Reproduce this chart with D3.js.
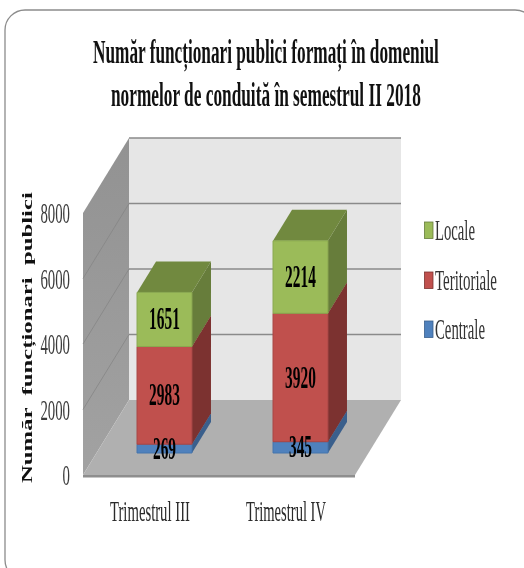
<!DOCTYPE html>
<html><head><meta charset="utf-8">
<script src="https://cdn.jsdelivr.net/npm/d3@7"></script>
<style>html,body{margin:0;padding:0;background:#fff}svg{display:block;filter:blur(.55px)}text{font-family:"Liberation Serif",serif}</style>
</head><body><svg id="c" width="524" height="568"></svg>
<script>
const titleLines = ["Număr funcționari publici formați în domeniul", "normelor de conduită în semestrul II 2018"];
const yTitle = "Număr  funcționari  publici";
const categories = ["Trimestrul III", "Trimestrul IV"];
const centrale = [269, 345];
const teritoriale = [2983, 3920];
const locale = [1651, 2214];
const yTicks = [0, 2000, 4000, 6000, 8000];
const seriesNames = ["Centrale", "Teritoriale", "Locale"];
const seriesValues = [centrale, teritoriale, locale];
const colors = [
  {front:"#4f81bd", side:"#3a5f8c", top:"#41699b", edge:"#4574ac"},
  {front:"#c0504d", side:"#7c3230", top:"#8e3b39", edge:"#a94644"},
  {front:"#9bbb59", side:"#677d3b", top:"#71893f", edge:"#8aa84f"}
];

const svg = d3.select("#c");
const x = d3.scaleBand().domain(categories).range([83,355]).paddingInner(.596).paddingOuter(.298);
const y = d3.scaleLinear().domain([0,8000]).range([475,213]);
const DX = 46, DY = 75, D0 = 22/75, D1 = 53/75;
const P = (px,v,d) => [px + d*DX, y(v) - d*DY];
const poly = (pts,fill,stroke) => svg.append("path").attr("d","M"+pts.map(p=>p.join(",")).join("L")+"Z")
  .attr("fill",fill).attr("stroke",stroke||"none").attr("stroke-width",stroke?1:0);
// place a text squeezed to a given pixel width; ax = 0 start, .5 middle, 1 end
function fit(sel, px, py, width, ax) {
  sel.attr("text-anchor","start").attr("x",0).attr("y",0).attr("dy",null);
  const len = sel.node().getComputedTextLength();
  sel.attr("transform",`translate(${px - ax*width},${py}) scale(${width/len},1)`);
}

// frame
svg.append("rect").attr("x",5).attr("y",10).attr("width",530).attr("height",570).attr("rx",20)
  .attr("fill","#fff").attr("stroke","#8c8c8c").attr("stroke-width",1.3);

// title
titleLines.forEach((t,i)=>{
  const s = svg.append("text").attr("font-size",33).attr("font-weight","bold").attr("fill","#111").text(t);
  fit(s,[93,111][i],[62.5,106][i],[346,310][i],0);
});

// walls and floor
const [xa,xb] = x.range();
const grad = svg.append("defs").append("linearGradient").attr("id","wall").attr("x1",0).attr("x2",0).attr("y1",0).attr("y2",1);
grad.append("stop").attr("offset",0).attr("stop-color","#929292");
grad.append("stop").attr("offset",1).attr("stop-color","#a2a2a2");
poly([P(xa,0,0),P(xa,8000,0),P(xa,8000,1),P(xa,0,1)],"url(#wall)");
poly([P(xa,0,1),P(xa,8000,1),P(xb,8000,1),P(xb,0,1)],"#e6e6e6");
poly([P(xa,0,0),P(xb,0,0),[xb,y(0)+2.5],[xa,y(0)+2.5]],"#8e8e8e");
poly([P(xa,0,0),P(xb,0,0),P(xb,0,1),P(xa,0,1)],"#b0b0b0");
yTicks.forEach(v=>{
  if(v>0) svg.append("line").attr("x1",P(xa,v,1)[0]).attr("y1",P(xa,v,1)[1]).attr("x2",P(xb,v,1)[0]).attr("y2",P(xb,v,1)[1]).attr("stroke","#8a8a8a").attr("stroke-width",1.6);
  if(v>0 && v<8000) svg.append("line").attr("x1",P(xa,v,0)[0]).attr("y1",P(xa,v,0)[1]).attr("x2",P(xa,v,1)[0]).attr("y2",P(xa,v,1)[1]).attr("stroke","#858585").attr("stroke-width",.8);
});

// stacked 3D bars
categories.forEach((c,ci)=>{
  const l = x(c), r = l + x.bandwidth();
  let base = 0;
  seriesValues.forEach((vals,si)=>{
    const v0 = base, v1 = base + vals[ci], col = colors[si];
    poly([P(r,v0,D0),P(r,v1,D0),P(r,v1,D1),P(r,v0,D1)],col.side);
    poly([P(l,v1,D0),P(r,v1,D0),P(r,v1,D1),P(l,v1,D1)],col.top);
    poly([P(l,v0,D0),P(r,v0,D0),P(r,v1,D0),P(l,v1,D0)],col.front,col.edge);
    base = v1;
  });
});
categories.forEach((c,ci)=>{
  const cx = x(c) + x.bandwidth()/2;
  let base = 0;
  seriesValues.forEach(vals=>{
    const val = vals[ci], mid = base + val/2;
    const p = P(cx,mid,D0);
    const s = svg.append("text").attr("font-size",31).attr("font-weight","bold").attr("fill","#000").text(val);
    fit(s,p[0],p[1]+10,String(val).length*7.7,.5);
    base += val;
  });
});

// axes
const axY = svg.append("g").attr("font-family",null)
  .call(d3.axisLeft(y).tickValues(yTicks).tickSize(0).tickPadding(0).tickFormat(d3.format("d")));
axY.select(".domain").remove();
axY.selectAll(".tick").attr("transform",null);
axY.selectAll("text").attr("font-size",30).attr("font-family","Liberation Serif").attr("fill","#3c3c3c")
  .each(function(d){ fit(d3.select(this),70,y(d)+10,String(d).length*7.4,1); });

const axX = svg.append("g").attr("font-family",null)
  .call(d3.axisBottom(x).tickSize(0).tickPadding(0));
axX.select(".domain").remove();
axX.selectAll(".tick").attr("transform",null);
axX.selectAll("text").attr("font-size",30).attr("font-family","Liberation Serif").attr("fill","#2a2a2a")
  .each(function(d){ fit(d3.select(this),x(d)+x.bandwidth()/2-1,520.5,80,.5); });

// y title
const yt = svg.append("text").attr("font-size",14.5).attr("font-weight","bold").attr("fill","#111").style("white-space","pre").text(yTitle);
{
  const len = yt.node().getComputedTextLength();
  yt.attr("transform",`translate(32,483) rotate(-90) scale(${291/len},1)`);
}

// legend
const legendY = {Locale:222, Teritoriale:272, Centrale:321};
const legendW = {Locale:40, Teritoriale:62, Centrale:50};
seriesNames.forEach((n,i)=>{
  const ly = legendY[n];
  svg.append("rect").attr("x",424.5).attr("y",ly).attr("width",8.5).attr("height",16.5).attr("fill",colors[i].front).attr("stroke",colors[i].side).attr("stroke-width",.8);
  const s = svg.append("text").attr("font-size",30).attr("fill","#333").text(n);
  fit(s,435,ly+18,legendW[n],0);
});
</script></body></html>
